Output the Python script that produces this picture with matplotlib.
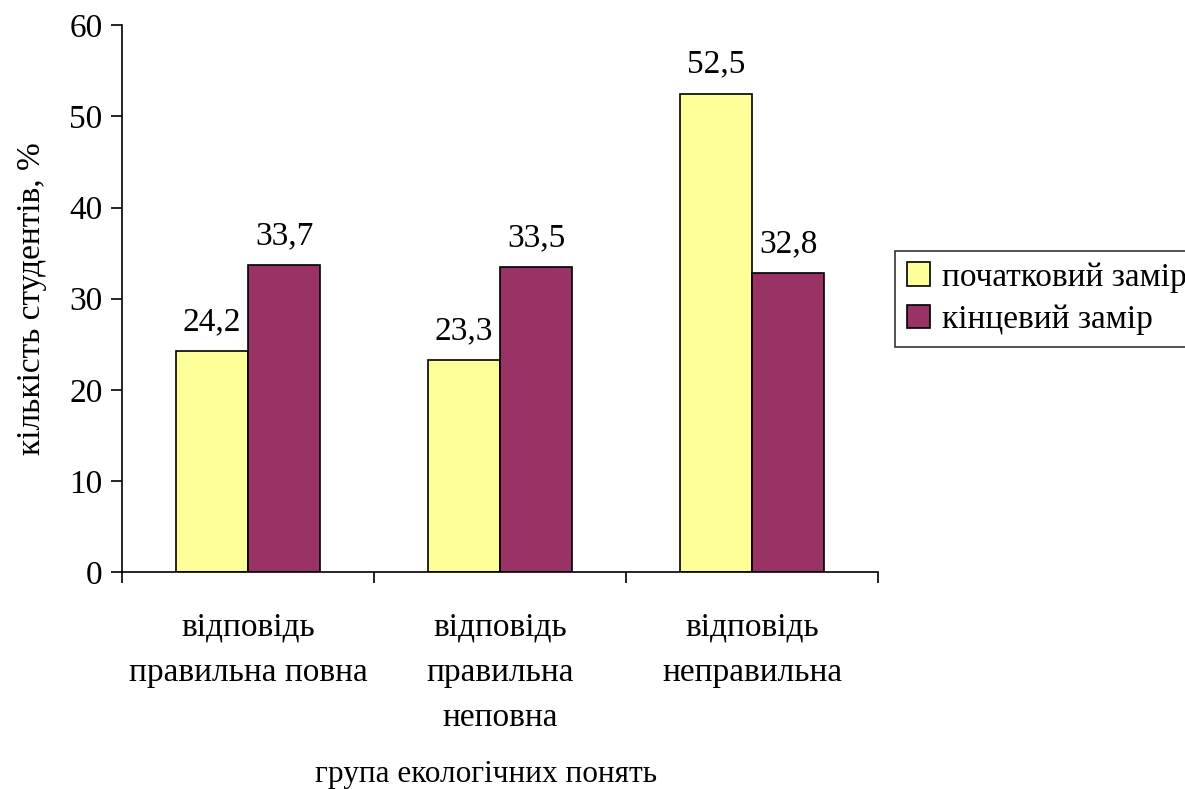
import matplotlib.pyplot as plt
import numpy as np

plt.rcParams['font.family'] = ['Liberation Serif', 'DejaVu Serif']

# Data
categories = ['відповідь\nправильна повна', 'відповідь\nправильна\nнеповна', 'відповідь\nнеправильна']
initial = [24.2, 23.3, 52.5]
final = [33.7, 33.5, 32.8]
series_names = ['початковий замір', 'кінцевий замір']
labels_initial = ['24,2', '23,3', '52,5']
labels_final = ['33,7', '33,5', '32,8']

fs = 24

fig = plt.figure(figsize=(11.85, 7.89), dpi=100)
ax = fig.add_axes([0.103, 0.275, 0.638, 0.693])

x = np.arange(len(categories))
w = 0.287
b1 = ax.bar(x - w / 2, initial, w, color='#FFFF99', edgecolor='black', linewidth=1.2, label=series_names[0])
b2 = ax.bar(x + w / 2, final, w, color='#993366', edgecolor='black', linewidth=1.2, label=series_names[1])

ax.bar_label(b1, labels=labels_initial, padding=10, fontsize=fs)
ax.bar_label(b2, labels=labels_final, padding=10, fontsize=fs)

ax.set_xlim(-0.5, 2.5)
ax.set_ylim(0, 60)
ax.set_yticks(range(0, 61, 10))
ax.set_xticks([-0.5, 0.5, 1.5, 2.5])
ax.set_xticklabels([])
ax.set_xticks(x, minor=True)
ax.set_xticklabels(categories, minor=True, fontsize=fs, linespacing=1.62)
ax.tick_params(axis='x', which='minor', length=0, pad=29)
ax.tick_params(axis='x', which='major', length=8, width=1.2)
ax.tick_params(axis='y', length=8, width=1.2, labelsize=fs, pad=6)

ax.spines['top'].set_visible(False)
ax.spines['right'].set_visible(False)
ax.spines['left'].set_linewidth(1.2)
ax.spines['bottom'].set_linewidth(1.2)

ax.set_ylabel('кількість студентів, %', fontsize=fs, labelpad=16)
fig.text(0.41, 0.018, 'група екологічних понять', fontsize=22.5, ha='center', va='center')

leg = ax.legend(loc='center left', bbox_to_anchor=(1.023, 0.5), fontsize=fs, frameon=True,
                fancybox=False, edgecolor='black', handlelength=0.7, handleheight=0.7,
                handletextpad=0.35, borderpad=0.35, labelspacing=0.35, borderaxespad=0)
leg.get_frame().set_linewidth(1.2)

fig.savefig('out.png', dpi=100)
